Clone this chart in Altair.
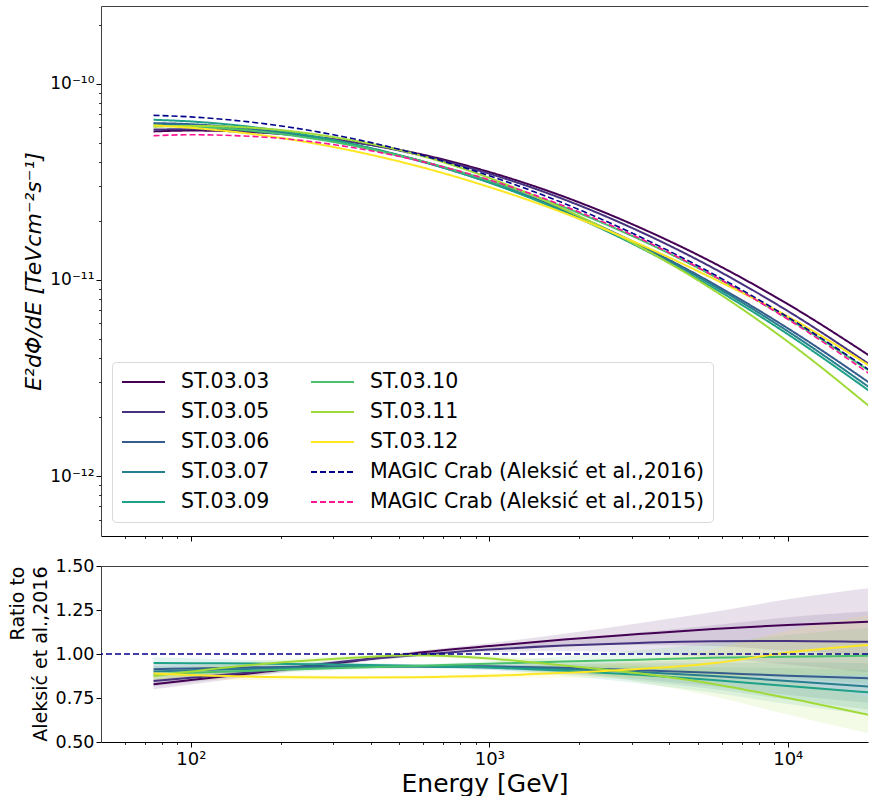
import altair as alt
import pandas as pd

# Sample energies (GeV) at which every curve is tabulated
ENERGY_GEV = [75, 100, 178, 316, 562, 1000, 1778, 3162, 5623, 10000, 20000]

# MAGIC Crab reference spectra, E^2 dPhi/dE in TeV cm^-2 s^-1
MAGIC_2016 = [6.889e-11, 6.764e-11, 6.232e-11, 5.404e-11, 4.412e-11, 3.390e-11,
              2.453e-11, 1.670e-11, 1.071e-11, 6.458e-12, 3.253e-12]
MAGIC_2015 = [5.423e-11, 5.486e-11, 5.330e-11, 4.832e-11, 4.089e-11, 3.230e-11,
              2.380e-11, 1.637e-11, 1.051e-11, 6.297e-12, 3.109e-12]

SERIES = ["ST.03.03", "ST.03.05", "ST.03.06", "ST.03.07",
          "ST.03.09", "ST.03.10", "ST.03.11", "ST.03.12"]
SERIES_COLORS = ["#440154", "#46327e", "#365c8d", "#277f8e",
                 "#1fa187", "#4ac16d", "#a0da39", "#fde725"]

# Spectrum of each period divided by the 2016 reference
RATIO = {
    "ST.03.03": [0.828, 0.852, 0.900, 0.950, 1.005, 1.045, 1.082, 1.113, 1.142, 1.165, 1.185],
    "ST.03.05": [0.847, 0.865, 0.905, 0.955, 0.993, 1.025, 1.048, 1.063, 1.072, 1.074, 1.068],
    "ST.03.06": [0.913, 0.918, 0.925, 0.930, 0.932, 0.930, 0.922, 0.908, 0.893, 0.877, 0.860],
    "ST.03.07": [0.900, 0.907, 0.918, 0.925, 0.928, 0.925, 0.915, 0.898, 0.875, 0.847, 0.812],
    "ST.03.09": [0.949, 0.948, 0.945, 0.940, 0.933, 0.923, 0.905, 0.882, 0.852, 0.818, 0.778],
    "ST.03.10": [0.885, 0.893, 0.907, 0.920, 0.932, 0.945, 0.957, 0.968, 0.978, 0.985, 0.990],
    "ST.03.11": [0.875, 0.900, 0.945, 0.975, 0.993, 0.975, 0.935, 0.890, 0.830, 0.750, 0.643],
    "ST.03.12": [0.889, 0.880, 0.870, 0.866, 0.868, 0.876, 0.893, 0.915, 0.948, 1.008, 1.055],
}

# Relative half-width of the uncertainty band on each ratio
BAND_REL = [0.035, 0.030, 0.020, 0.012, 0.010, 0.015, 0.030, 0.055, 0.085, 0.125, 0.165]

REFERENCE_RATIO = 1.0

LABEL_2016 = "MAGIC Crab (Aleksić et al.,2016)"
LABEL_2015 = "MAGIC Crab (Aleksić et al.,2015)"

X_DOMAIN = [50, 18570]
Y_TOP_DOMAIN = [4.95e-13, 2.485e-10]
Y_BOT_DOMAIN = [0.5, 1.5]

X_MAJOR = [100, 1000, 10000]
X_MINOR = [60, 70, 80, 90] + [m * 100 for m in range(2, 10)] + [m * 1000 for m in range(2, 10)]
Y_TOP_MAJOR = [1e-12, 1e-11, 1e-10]
Y_TOP_MINOR = ([m * 1e-13 for m in range(6, 10)] + [m * 1e-12 for m in range(2, 10)]
               + [m * 1e-11 for m in range(2, 10)] + [2e-10])
Y_BOT_MAJOR = [0.5, 0.75, 1.0, 1.25, 1.5]

FONT = "DejaVu Sans"
AXIS_GREY = "#404040"

# ---- tables -------------------------------------------------------------
st_rows = []
for name in SERIES:
    for e, r, ref, w in zip(ENERGY_GEV, RATIO[name], MAGIC_2016, BAND_REL):
        st_rows.append({"energy": e, "series": name, "ratio": r,
                        "lo": r * (1 - w), "hi": r * (1 + w), "flux": r * ref})
st_df = pd.DataFrame(st_rows)

magic_df = pd.DataFrame(
    [{"energy": e, "series": LABEL_2016, "flux": f} for e, f in zip(ENERGY_GEV, MAGIC_2016)]
    + [{"energy": e, "series": LABEL_2015, "flux": f} for e, f in zip(ENERGY_GEV, MAGIC_2015)]
)
unity_df = pd.DataFrame({"ratio": [REFERENCE_RATIO]})

legend_domain = SERIES + [LABEL_2016, LABEL_2015]
legend_colors = SERIES_COLORS + ["#00008b", "#ff1493"]
legend_dashes = [[1, 0]] * len(SERIES) + [[6, 3], [6, 3]]

x_scale = alt.Scale(type="log", domain=X_DOMAIN)
y_top_scale = alt.Scale(type="log", domain=Y_TOP_DOMAIN)
y_bot_scale = alt.Scale(domain=Y_BOT_DOMAIN)

sup_x = ("datum.value == 100 ? '10\u00b2' : datum.value == 1000 ? '10\u00b3' : '10\u2074'")
sup_y = ("datum.value < 5e-12 ? '10\u207b\u00b9\u00b2' : "
         "datum.value < 5e-11 ? '10\u207b\u00b9\u00b9' : '10\u207b\u00b9\u2070'")


def x_major(labels, title=None):
    kw = dict(orient="bottom", values=X_MAJOR, grid=False, tickSize=5, tickWidth=1,
              tickColor="black", domainColor="black", domainWidth=1, title=title)
    if labels:
        kw.update(labelExpr=sup_x, labelFontSize=18, labelPadding=3,
                  titleFontSize=25, titlePadding=3, titleFontWeight="normal")
    else:
        kw.update(labels=False)
    return alt.Axis(**kw)


def x_minor():
    return alt.Axis(orient="bottom", values=X_MINOR, labels=False, grid=False,
                    tickSize=2.5, tickWidth=0.8, tickColor="black", domain=False, title=None)


def top_border():
    return alt.Axis(orient="top", labels=False, ticks=False, grid=False,
                    domainColor=AXIS_GREY, domainWidth=1, title=None)


legend = alt.Legend(
    orient="none", legendX=11, legendY=356, columns=2, title=None,
    symbolType="stroke", symbolSize=1849, symbolStrokeWidth=2,
    labelFontSize=20.5, labelFont=FONT, labelColor="black", labelOffset=15, labelLimit=0,
    clipHeight=22, columnPadding=40, rowPadding=8, padding=9,
    fillColor="white", strokeColor="#d9d9d9", cornerRadius=4,
)
color_top = alt.Color("series:N", scale=alt.Scale(domain=legend_domain, range=legend_colors),
                      legend=legend)
dash_top = alt.StrokeDash("series:N", scale=alt.Scale(domain=legend_domain, range=legend_dashes),
                          legend=legend)

# ---- upper panel: spectra ------------------------------------------------
st_lines = alt.Chart(st_df).mark_line(strokeWidth=2, clip=True, interpolate="monotone").encode(
    x=alt.X("energy:Q", scale=x_scale, axis=x_major(False)),
    y=alt.Y("flux:Q", scale=y_top_scale,
            axis=alt.Axis(orient="left", values=Y_TOP_MAJOR, labelExpr=sup_y, labelFontSize=17,
                          grid=False, tickSize=5, tickColor="black", domainColor=AXIS_GREY,
                          title="E\u00b2dΦ/dE [TeVcm\u207b\u00b2s\u207b\u00b9]",
                          titleFontSize=22, titleFontStyle="italic", titleFontWeight="normal",
                          titlePadding=4)),
    color=color_top, strokeDash=dash_top,
)
magic_lines = alt.Chart(magic_df).mark_line(strokeWidth=1.6, clip=True, interpolate="monotone").encode(
    x=alt.X("energy:Q", scale=x_scale, axis=None),
    y=alt.Y("flux:Q", scale=y_top_scale, axis=None),
    color=color_top, strokeDash=dash_top,
)
top_minor = alt.Chart(magic_df).mark_line(opacity=0, clip=True).encode(
    x=alt.X("energy:Q", scale=x_scale, axis=x_minor()),
    y=alt.Y("flux:Q", scale=y_top_scale,
            axis=alt.Axis(orient="left", values=Y_TOP_MINOR, labels=False, grid=False,
                          tickSize=2.5, tickWidth=0.8, tickColor="black", domain=False, title=None)),
)
top_frame = alt.Chart(magic_df).mark_line(opacity=0, clip=True).encode(
    x=alt.X("energy:Q", scale=x_scale, axis=top_border()),
    y=alt.Y("flux:Q", scale=y_top_scale, axis=None),
)
top = alt.layer(st_lines, magic_lines, top_minor, top_frame).resolve_axis(
    x="independent", y="independent").properties(width=767, height=530)

# ---- lower panel: ratio to the 2016 reference ----------------------------
color_bot = alt.Color("series:N", scale=alt.Scale(domain=SERIES, range=SERIES_COLORS), legend=None)

bands = alt.Chart(st_df).mark_area(opacity=0.12, clip=True, interpolate="monotone").encode(
    x=alt.X("energy:Q", scale=x_scale, axis=x_major(True, "Energy [GeV]")),
    y=alt.Y("lo:Q", scale=y_bot_scale,
            axis=alt.Axis(orient="left", values=Y_BOT_MAJOR, format=".2f", labelFontSize=17.5,
                          grid=False, tickSize=5, tickColor="black", domainColor=AXIS_GREY,
                          title=["Ratio to", "Aleksić et al.,2016"], titleFontSize=19,
                          titleFontWeight="normal", titleAnchor="end", titlePadding=5,
                          titleLineHeight=23)),
    y2="hi:Q",
    color=color_bot,
)
ratio_lines = alt.Chart(st_df).mark_line(strokeWidth=2, clip=True, interpolate="monotone").encode(
    x=alt.X("energy:Q", scale=x_scale, axis=None),
    y=alt.Y("ratio:Q", scale=y_bot_scale, axis=None),
    color=color_bot,
)
unity = alt.Chart(unity_df).mark_rule(color="#00008b", strokeDash=[6, 3], strokeWidth=1.6).encode(
    y=alt.Y("ratio:Q", scale=y_bot_scale, axis=None),
)
bot_minor = alt.Chart(st_df).mark_line(opacity=0, clip=True).encode(
    x=alt.X("energy:Q", scale=x_scale, axis=x_minor()),
    y=alt.Y("ratio:Q", scale=y_bot_scale, axis=None),
)
bot_frame = alt.Chart(st_df).mark_line(opacity=0, clip=True).encode(
    x=alt.X("energy:Q", scale=x_scale, axis=top_border()),
    y=alt.Y("ratio:Q", scale=y_bot_scale, axis=None),
)
bottom = alt.layer(bands, ratio_lines, unity, bot_minor, bot_frame).resolve_axis(
    x="independent", y="independent").properties(width=767, height=176)

chart = alt.vconcat(top, bottom, spacing=30, bounds="flush").resolve_scale(
    color="independent", strokeDash="independent"
).properties(
    padding={"left": 8, "top": 6, "right": 0, "bottom": 0}
).configure_view(stroke=None).configure_axis(
    labelFont=FONT, titleFont=FONT, labelColor="black", titleColor="black",
)

chart.save("out.html", embed_options={"renderer": "svg", "actions": False})
